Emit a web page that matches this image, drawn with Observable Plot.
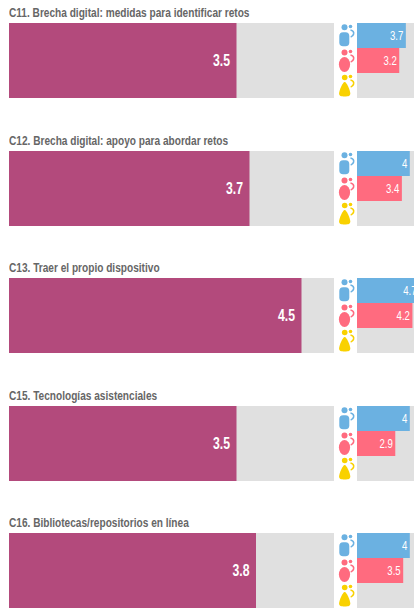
<!DOCTYPE html>
<html>
<head>
<meta charset="utf-8">
<script src="https://cdn.jsdelivr.net/npm/d3@7"></script>
<script src="https://cdn.jsdelivr.net/npm/@observablehq/plot@0.6"></script>
<style>
html,body{margin:0;padding:0;background:#fff;width:414px;height:608px;overflow:hidden}
#chart{position:relative;width:414px;height:608px;overflow:hidden}
.title{position:absolute;left:9px;font:bold 13.4px "Liberation Sans",sans-serif;color:#666;white-space:nowrap;line-height:14px;transform:scaleX(.755);transform-origin:0 50%}
.panel{position:absolute}
svg{display:block}
</style>
</head>
<body>
<div id="chart"></div>
<script>
const categories = [
  "C11. Brecha digital: medidas para identificar retos",
  "C12. Brecha digital: apoyo para abordar retos",
  "C13. Traer el propio dispositivo",
  "C15. Tecnologías asistenciales",
  "C16. Bibliotecas/repositorios en línea"
];
const overall = [3.5, 3.7, 4.5, 3.5, 3.8];
const men     = [3.7, 4, 4.7, 4, 4];
const women   = [3.2, 3.4, 4.2, 2.9, 3.5];
const groups  = ["Hombres", "Mujeres", "Otro"];
const maxScore = 5;

const colors = {overall:"#b34a7c", track:"#e0e0e0", Hombres:"#6bb1e1", Mujeres:"#ff6b7f", Otro:"#f9d100"};
const rowTops = [23, 151, 278, 406, 533];
const panelHeight = 75;

function uri(body){
  return "data:image/svg+xml," + encodeURIComponent(
    `<svg xmlns="http://www.w3.org/2000/svg" viewBox="0 0 22 25" width="22" height="25">${body}</svg>`);
}
function small(c){
  return `<circle cx="15" cy="3" r="1.8" fill="${c}"/><path d="M15 6.500c2.500.500 3.400 2.200 3.100 4-.3 1.400-1.400 2.500-2.900 2.900" fill="none" stroke="${c}" stroke-width="1.6"/>`;
}
const icons = {
  Hombres: uri(`<circle cx="9" cy="3.800" r="3" fill="${colors.Hombres}"/><rect x="3.800" y="8.800" width="10" height="14" rx="3.800" fill="${colors.Hombres}"/>` + small(colors.Hombres)),
  Mujeres: uri(`<circle cx="9" cy="4" r="3" fill="${colors.Mujeres}"/><ellipse cx="9" cy="16" rx="5.600" ry="7.400" fill="${colors.Mujeres}"/>` + small(colors.Mujeres)),
  Otro: uri(`<circle cx="9.200" cy="4" r="2.800" fill="${colors.Otro}"/><path d="M9.200 8.500C11.200 8.500 14.800 17 14.800 20c0 2.400-1.800 3-5.600 3S3.600 22.400 3.600 20C3.600 17 7.200 8.500 9.200 8.500z" fill="${colors.Otro}"/>` + small(colors.Otro))
};

const chart = document.getElementById("chart");
const font = '"Liberation Sans",sans-serif';

function narrow(svg, k){
  svg.querySelectorAll("text").forEach(t => {
    const host = t.hasAttribute("transform") ? t : t.parentNode;
    host.setAttribute("transform", (host.getAttribute("transform") || "") + ` scale(${k},1)`);
  });
  return svg;
}

categories.forEach((name, i) => {
  const t = document.createElement("div");
  t.className = "title";
  t.textContent = name;
  t.style.top = (rowTops[i] - 17) + "px";
  chart.appendChild(t);

  const main = narrow(Plot.plot({
    width: 325, height: panelHeight, margin: 0,
    x: {domain: [0, maxScore], axis: null},
    marks: [
      Plot.barX([maxScore], {x: d => d, fill: colors.track}),
      Plot.barX([overall[i]], {x: d => d, fill: colors.overall}),
      Plot.text([overall[i]], {x: d => d, text: d => String(d), textAnchor: "end", dx: -7, frameAnchor: "middle",
        fill: "#fff", fontSize: 17, fontWeight: "bold", fontFamily: font})
    ]
  }), .72);
  main.classList.add("panel");
  main.style.left = "9px";
  main.style.top = rowTops[i] + "px";
  chart.appendChild(main);

  const rows = [
    {group: "Hombres", value: men[i]},
    {group: "Mujeres", value: women[i]}
  ];
  const side = narrow(Plot.plot({
    width: 88, height: panelHeight,
    marginLeft: 22, marginRight: 0, marginTop: 0, marginBottom: 0,
    x: {domain: [0, maxScore], axis: null},
    y: {type: "band", domain: groups, padding: 0, axis: null},
    color: {domain: groups, range: groups.map(g => colors[g])},
    marks: [
      Plot.barX([maxScore], {x: d => d, fill: colors.track}),
      Plot.barX(rows, {x: "value", y: "group", fill: "group"}),
      Plot.text(rows, {x: "value", y: "group", text: d => String(d.value), textAnchor: "end", dx: -3,
        fill: "#fff", fontSize: 12, fontWeight: "normal", fontFamily: font}),
      Plot.image(groups, {x: () => 0, y: d => d, src: d => icons[d], width: 22, height: 25, dx: -11})
    ]
  }), .8);
  side.classList.add("panel");
  side.style.left = "335px";
  side.style.top = rowTops[i] + "px";
  chart.appendChild(side);
});
</script>
</body>
</html>
